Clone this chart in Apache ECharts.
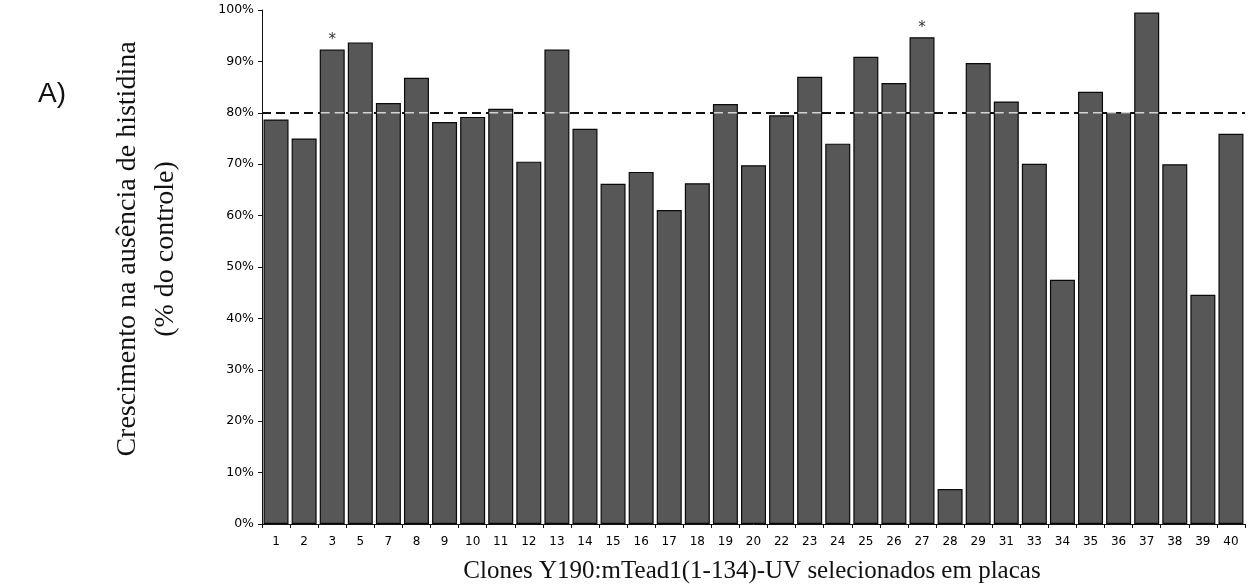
<!DOCTYPE html>
<html>
<head>
<meta charset="utf-8">
<script src="https://cdn.jsdelivr.net/npm/echarts@6/dist/echarts.min.js"></script>
<style>
  html, body { margin: 0; padding: 0; background: #fff; }
  #chart { width: 1259px; height: 587px; }
</style>
</head>
<body>
<div id="chart"></div>
<script>
// Clone numbers on the x axis
const clones = ['1','2','3','5','7','8','9','10','11','12','13','14','15','16','17','18','19','20','22','23','24','25','26','27','28','29','31','33','34','35','36','37','38','39','40'];
// Growth without histidine, % of control
const growth = [78.7,75.0,92.3,93.7,81.9,86.8,78.2,79.2,80.8,70.5,92.3,76.9,66.2,68.5,61.1,66.3,81.7,69.8,79.5,87.0,74.0,90.9,85.8,94.7,6.8,89.7,82.2,70.1,47.5,84.1,80.1,99.5,70.0,44.6,75.9];
// Clones marked with an asterisk
const marked = ['3','27'];
// Cut-off line
const threshold = 80;
// Y axis range and step (%)
const yMin = 0, yMax = 100, yStep = 10;

const BAR_FRACTION = 0.89;

const chart = echarts.init(document.getElementById('chart'), null, { renderer: 'canvas' });

const barData = growth.map((v, i) => {
  const item = { value: v };
  if (marked.includes(clones[i])) {
    item.label = {
      show: true, position: 'top', distance: 2, formatter: '*',
      fontFamily: 'DejaVu Sans', fontSize: 15, color: '#333'
    };
  }
  return item;
});

chart.setOption({
  animation: false,
  backgroundColor: '#ffffff',
  grid: { left: 262, right: 14, top: 10, bottom: 63 },
  xAxis: {
    type: 'category',
    data: clones,
    boundaryGap: true,
    axisLine: { lineStyle: { color: '#111', width: 1 } },
    axisTick: { show: true, length: 4, lineStyle: { color: '#111' } },
    axisLabel: { margin: 12, fontFamily: 'DejaVu Sans', fontSize: 12, color: '#000', interval: 0 }
  },
  yAxis: {
    type: 'value',
    min: yMin, max: yMax, interval: yStep,
    splitLine: { show: false },
    axisLine: { show: true, lineStyle: { color: '#111', width: 1 } },
    axisTick: { show: true, length: 4, lineStyle: { color: '#111' } },
    axisLabel: { margin: 8, fontFamily: 'DejaVu Sans', fontSize: 12.5, color: '#000', formatter: '{value}%' }
  },
  series: [
    {
      type: 'bar',
      data: barData,
      barCategoryGap: ((1 - BAR_FRACTION) * 100) + '%',
      itemStyle: { color: '#575757', borderColor: '#0a0a0a', borderWidth: 1.2 },
      z: 2,
      // dashed cut-off, behind the bars
      markLine: {
        z: 1, silent: true, symbol: 'none', label: { show: false },
        lineStyle: { color: '#111', type: [9, 5], width: 2 },
        data: [{ yAxis: threshold }]
      }
    },
    {
      // light dashes where the cut-off crosses a bar
      type: 'custom',
      z: 3,
      silent: true,
      data: growth.map((v, i) => [i, v]),
      encode: { x: 0, y: 1 },
      renderItem: function (params, api) {
        if (api.value(1) <= threshold) return null;
        const p = api.coord([api.value(0), threshold]);
        const bw = api.size([1, 0])[0] * BAR_FRACTION - 2;
        return {
          type: 'line',
          shape: { x1: p[0] - bw / 2, y1: p[1], x2: p[0] + bw / 2, y2: p[1] },
          style: { stroke: '#d4d4d4', lineWidth: 1.6, lineDash: [9, 5] }
        };
      }
    }
  ],
  graphic: [
    {
      type: 'text', left: 38, top: 80,
      style: { text: 'A)', font: '28px "Liberation Sans", Arial, sans-serif', fill: '#111' }
    },
    {
      type: 'text', x: 128, y: 249, rotation: Math.PI / 2,
      style: { text: 'Crescimento na ausência de histidina', font: '28px "Liberation Serif", "Times New Roman", serif',
               fill: '#111', textAlign: 'center', textVerticalAlign: 'middle' }
    },
    {
      type: 'text', x: 166, y: 249, rotation: Math.PI / 2,
      style: { text: '(% do controle)', font: '28px "Liberation Serif", "Times New Roman", serif',
               fill: '#111', textAlign: 'center', textVerticalAlign: 'middle' }
    },
    {
      type: 'text', x: 752, y: 571,
      style: { text: 'Clones Y190:mTead1(1-134)-UV selecionados em placas', font: '25px "Liberation Serif", "Times New Roman", serif',
               fill: '#111', textAlign: 'center', textVerticalAlign: 'middle' }
    }
  ]
});
</script>
</body>
</html>
